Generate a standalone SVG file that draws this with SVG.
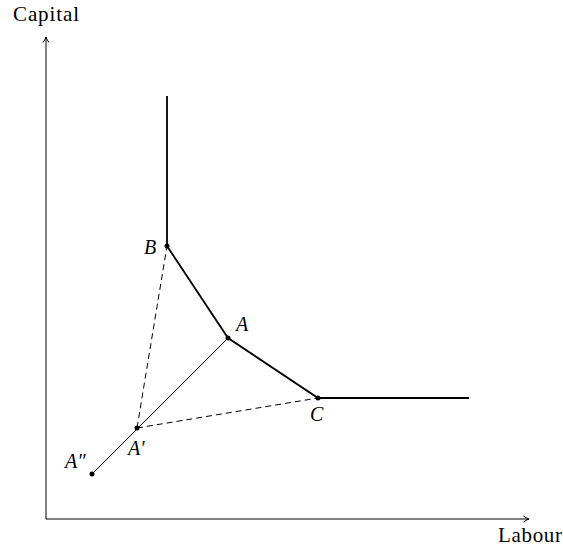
<svg xmlns="http://www.w3.org/2000/svg" width="563" height="547" viewBox="0 0 563 547">
<style>
.t{font-family:"Liberation Serif","Times New Roman",serif;font-size:21px;fill:#000}
.i{font-style:italic;font-size:20px}
.thick{stroke:#000;stroke-width:1.8;fill:none}
.thin{stroke:#000;stroke-width:1;fill:none}
.dash{stroke:#000;stroke-width:1;fill:none;stroke-dasharray:6 4}
.dot{fill:#000}
</style>
<defs>
<marker id="ah" markerWidth="8" markerHeight="8" refX="6" refY="4" orient="auto" markerUnits="userSpaceOnUse">
<path d="M0.5,1 Q3,3 6,4 Q3,5 0.5,7" fill="none" stroke="#000" stroke-width="1"/>
</marker>
</defs>
<g id="connectors">
<line class="thin" x1="46" y1="519" x2="46" y2="37" marker-end="url(#ah)"/>
<line class="thin" x1="46" y1="519" x2="529" y2="519" marker-end="url(#ah)"/>
<polyline class="thick" points="167,96 167,246 228,338 318,398 469,398"/>
<line class="thin" x1="92" y1="474" x2="228" y2="338"/>
<line class="dash" x1="137" y1="428" x2="167" y2="246"/>
<line class="dash" x1="137" y1="428" x2="318" y2="398"/>
</g>
<g id="axis-capital"><text class="t" x="13" y="21" textLength="66" lengthAdjust="spacing">Capital</text></g>
<g id="axis-labour"><text class="t" x="498" y="542" textLength="64" lengthAdjust="spacing">Labour</text></g>
<g id="node-B"><circle class="dot" cx="167" cy="246" r="2.5"/><text class="t i" x="144" y="254">B</text></g>
<g id="node-A"><circle class="dot" cx="228" cy="338" r="2.5"/><text class="t i" x="236" y="331">A</text></g>
<g id="node-C"><circle class="dot" cx="318" cy="398" r="2.5"/><text class="t i" x="310" y="421">C</text></g>
<g id="node-A1"><circle class="dot" cx="137" cy="428" r="2.5"/><text class="t i" x="128" y="455">A′</text></g>
<g id="node-A2"><circle class="dot" cx="92" cy="474" r="2.5"/><text class="t i" x="65" y="468">A″</text></g>
</svg>
